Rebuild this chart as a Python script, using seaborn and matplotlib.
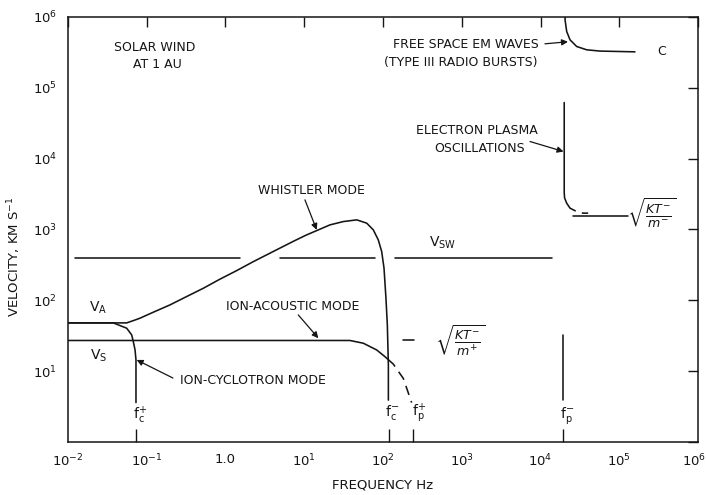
import matplotlib
matplotlib.use("Agg")
import matplotlib.pyplot as plt
import matplotlib.transforms as mtransforms
from matplotlib.ticker import NullLocator, NullFormatter
import seaborn as sns

# Characteristic frequencies of the solar wind plasma at 1 AU (Hz)
f_ci = 0.073     # ion cyclotron, f_c+
f_ce = 119.0     # electron cyclotron, f_c-
f_pi = 238.0     # ion plasma, f_p+
f_pe = 1.95e4    # electron plasma, f_p-

# Characteristic speeds (km/s)
v_sw = 400       # solar wind bulk speed
v_th_e = 1570    # sqrt(KT-/m-)

# Whistler mode (starts on the Alfven speed, cuts off at f_c-)
whistler_f = [0.01, 0.0556, 0.0676, 0.082, 0.121, 0.197, 0.321, 0.523, 0.851,
              1.39, 2.26, 3.67, 7.26, 10.5, 14.4, 21.2, 31.3, 46.4, 62.1, 75.3,
              87.1, 96.2, 103, 109, 113.5, 117, 117]
whistler_v = [48, 48, 51.7, 55.9, 67.9, 86.1, 113, 148, 199,
              263, 352, 463, 680, 830, 965, 1161, 1293, 1367, 1228, 987,
              713, 488, 284, 107, 45, 12.2, 3.9]

# Ion-cyclotron mode (Alfven speed down to f_c+)
ioncyc_f = [0.01, 0.0376, 0.0556, 0.0644, 0.0675, 0.071, 0.073, 0.073]
ioncyc_v = [48, 48, 40.4, 32.5, 26.1, 20, 14.4, 3.6]

# Ion-acoustic mode (sound speed), solid part and dashed continuation to f_p+
ionac_f = [0.01, 38.1, 56.2, 83.2, 106, 117]
ionac_v = [27.1, 27.1, 24.8, 19.9, 16.0, 14.5]
ionac_dash_f = [117, 135, 181, 231]
ionac_dash_v = [14.5, 12.6, 7.9, 3.6]

# Solar wind speed, drawn in three pieces
vsw_start = [0.0123, 4.92, 142]
vsw_end = [1.53, 79, 14000]

# sqrt(KT-/m+) marker beside the ion-acoustic curve
kt_ion_f = [180, 250]
kt_ion_v = [27.1, 27.1]

# Electron plasma oscillations
epo_f = [2.0e4, 2.0e4, 2.0e4, 2.02e4, 2.15e4, 2.37e4]
epo_v = [6.2e4, 5600, 3300, 2795, 2351, 2000]
epo_dash_f = [2.37e4, 2.88e4, 3.5e4, 4.64e4]
epo_dash_v = [2000, 1790, 1698, 1710]
kt_e_f = [2.61e4, 1.30e5]

# Lower f_p- marker line
fpe_line_v = [32.5, 3.9]

# Free-space electromagnetic waves (approach c)
em_f = [2.05e4, 2.05e4, 2.15e4, 2.37e4, 2.88e4, 3.86e4, 5.7e4, 1.58e5]
em_v = [1.0e6, 9.1e5, 6.24e5, 4.76e5, 3.83e5, 3.44e5, 3.30e5, 3.22e5]

x_ticks = [1e-2, 1e-1, 1e0, 1e1, 1e2, 1e3, 1e4, 1e5, 1e6]
x_labels = [r"$10^{-2}$", r"$10^{-1}$", "1.0", r"$10^{1}$", r"$10^{2}$",
            r"$10^{3}$", r"$10^{4}$", r"$10^{5}$", r"$10^{6}$"]
y_ticks = [1e0, 1e1, 1e2, 1e3, 1e4, 1e5, 1e6]
y_labels = ["", r"$10^{1}$", r"$10^{2}$", r"$10^{3}$", r"$10^{4}$",
            r"$10^{5}$", r"$10^{6}$"]

sns.set_style("white")
plt.rcParams["font.family"] = ["DejaVu Sans"]
plt.rcParams["mathtext.fontset"] = "dejavusans"

ink = "#151515"
lw = 1.15

fig = plt.figure(figsize=(7.06, 4.95), dpi=100)
ax = fig.add_axes([0.0963, 0.1071, 0.8924, 0.8586])


def curve(fx, vy, **kw):
    sns.lineplot(x=fx, y=vy, ax=ax, color=ink, lw=kw.pop("lw", lw),
                 sort=False, estimator=None, legend=False, **kw)


curve(whistler_f, whistler_v)
curve(ioncyc_f, ioncyc_v)
curve(ionac_f, ionac_v)
curve(ionac_dash_f, ionac_dash_v, linestyle=(0, (6, 4)))
for a, b in zip(vsw_start, vsw_end):
    curve([a, b], [v_sw, v_sw])
curve(kt_ion_f, kt_ion_v)
curve(epo_f, epo_v)
curve(epo_dash_f, epo_dash_v, linestyle=(0, (4, 4)))
curve(kt_e_f, [v_th_e, v_th_e])
curve([f_pe, f_pe], fpe_line_v)
curve(em_f, em_v)

ax.set_xscale("log")
ax.set_yscale("log")
ax.set_xlim(1e-2, 1e6)
ax.set_ylim(1e0, 1e6)

ax.set_xticks(x_ticks)
ax.set_xticklabels(x_labels)
ax.set_yticks(y_ticks)
ax.set_yticklabels(y_labels)
ax.set_xticks([f_ci, f_ce, f_pi, f_pe], minor=True)
ax.xaxis.set_minor_formatter(NullFormatter())
ax.yaxis.set_minor_locator(NullLocator())
ax.tick_params(which="major", direction="in", length=7, width=1.0,
               top=True, right=True, colors=ink, labelsize=9.5, pad=8)
ax.tick_params(which="minor", direction="in", length=9.5, width=1.0,
               top=False, bottom=True, left=False, right=False, colors=ink)
for s in ax.spines.values():
    s.set_color(ink)
    s.set_linewidth(1.1)

# keep the last frequency label inside the canvas
last = ax.get_xticklabels()[-1]
last.set_horizontalalignment("right")
last.set_transform(last.get_transform() +
                   mtransforms.ScaledTranslation(0.08, 0, fig.dpi_scale_trans))

ax.set_xlabel("FREQUENCY Hz", fontsize=9.5, color=ink, labelpad=6)
ax.set_ylabel(r"VELOCITY, KM S$^{-1}$", fontsize=9.5, color=ink)
ax.yaxis.set_label_coords(-0.072, 0.435)

txt = dict(color=ink, fontsize=9, ha="center", va="center")
ax.text(0.127, 3.67e5, "SOLAR WIND", **txt)
ax.text(0.135, 2.11e5, "AT 1 AU", **txt)
ax.text(12.2, 3510, "WHISTLER MODE", **txt)
ax.text(1130, 4.05e5, "FREE SPACE EM WAVES", **txt)
ax.text(966, 2.25e5, "(TYPE III RADIO BURSTS)", **txt)
ax.text(3.46e5, 3.25e5, "C", **txt)
ax.text(1563, 24700, "ELECTRON PLASMA", **txt)
ax.text(1680, 13750, "OSCILLATIONS", **txt)
ax.text(2.6e5, 1715, r"$\sqrt{\frac{KT^{-}}{m^{-}}}$", **dict(txt, fontsize=13))
ax.text(578, 647, r"$\mathrm{V_{SW}}$", **dict(txt, fontsize=10))
ax.text(0.024, 78, r"$\mathrm{V_{A}}$", **dict(txt, fontsize=10))
ax.text(0.0248, 16.4, r"$\mathrm{V_{S}}$", **dict(txt, fontsize=10))
ax.text(7.19, 80.7, "ION-ACOUSTIC MODE", **txt)
ax.text(2.2, 7.5, "ION-CYCLOTRON MODE", **txt)
ax.text(950, 27.6, r"$\sqrt{\frac{KT^{-}}{m^{+}}}$", **dict(txt, fontsize=13))
ax.text(0.082, 2.4, r"$\mathrm{f_c^{+}}$", **dict(txt, fontsize=10))
ax.text(130, 2.57, r"$\mathrm{f_c^{-}}$", **dict(txt, fontsize=10))
ax.text(285, 2.5, r"$\mathrm{f_p^{+}}$", **dict(txt, fontsize=10))
ax.text(21500, 2.4, r"$\mathrm{f_p^{-}}$", **dict(txt, fontsize=10))

arrow = dict(arrowstyle="-|>", color=ink, lw=0.9, mutation_scale=9,
             shrinkA=0, shrinkB=0)
ax.annotate("", xy=(14.4, 987), xytext=(10.2, 2620), arrowprops=arrow)
ax.annotate("", xy=(22300, 4.47e5), xytext=(11400, 4.18e5), arrowprops=arrow)
ax.annotate("", xy=(19600, 12600), xytext=(7360, 17450), arrowprops=arrow)
ax.annotate("", xy=(15.1, 29.2), xytext=(8.4, 62.2), arrowprops=arrow)
ax.annotate("", xy=(0.0745, 14.4), xytext=(0.215, 8.0), arrowprops=arrow)

fig.savefig("out.png", dpi=100, facecolor="white")
